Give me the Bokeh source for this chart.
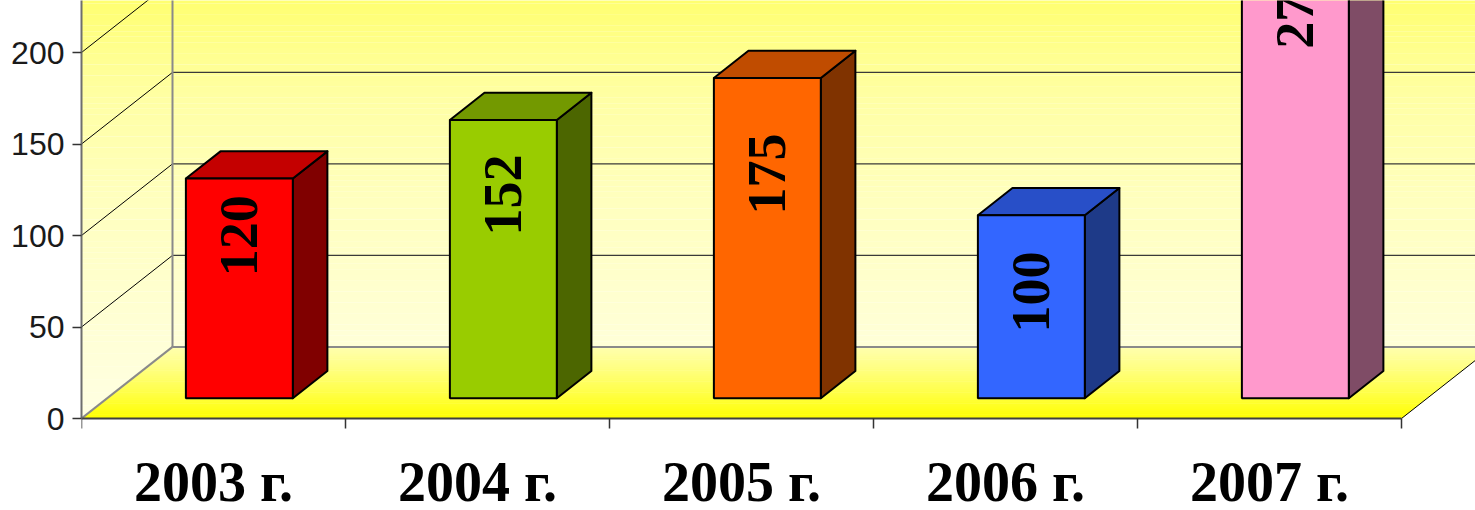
import numpy as np
from bokeh.plotting import figure
from bokeh.models import FixedTicker, Range1d, ColumnDataSource, LinearAxis
from bokeh.core.properties import value
from bokeh.embed import file_html
from bokeh.resources import INLINE

# ---- data -------------------------------------------------------------
years = ["2003 г.", "2004 г.", "2005 г.", "2006 г.", "2007 г."]
counts = [120, 152, 175, 100, 275]
y_ticks = [0, 50, 100, 150, 200]

# ---- styling ----------------------------------------------------------
front_colors = ["#FF0000", "#99CC00", "#FF6600", "#3366FF", "#FF99CC"]
top_colors = ["#C40000", "#739900", "#C04C00", "#284FC8", "#C87AA0"]
side_colors = ["#800000", "#4C6600", "#803300", "#1E3A88", "#7F4C66"]
label_frac = [0.74, 0.73, 0.70, 0.58, 0.775]   # where the value sits along each bar

W, H = 1475, 510
PX_X = 264.0          # pixels per category
PX_Y = 1.83           # pixels per value unit
LEFT, BASE = 81, 418  # left edge of the plot box, pixel row of the zero line
DX = 91.0 / PX_X      # depth of the box along x (category units)
DY = 71.6 / PX_Y      # depth of the box along y (value units)
FRONT = 0.284         # depth position of the bar fronts
BAR_D = 0.38          # bar depth as a fraction of the box depth
BAR_W = 0.405
N = len(years)

x_end = (W - LEFT) / PX_X
y_end = BASE / PX_Y
y_start = -(H - BASE) / PX_Y

p = figure(width=W, height=H, output_backend="svg", toolbar_location=None,
           x_range=Range1d(0, x_end), y_range=Range1d(y_start, y_end),
           x_axis_location=None,
           min_border_left=LEFT, min_border_right=0, min_border_top=0,
           min_border_bottom=0)
p.outline_line_color = None
p.background_fill_color = "white"
p.border_fill_color = "white"
for g in p.grid:
    g.visible = False


def wall_color(ypx):
    b = np.interp(ypx, [0, 50, 100, 200, 300, 347, 418],
                  [112, 142, 165, 190, 208, 216, 226])
    return "#FFFF%02X" % int(round(b))


# ---- walls (vertical gradient) --------------------------------------
edges = np.concatenate([np.linspace(0, DY, 12), np.linspace(DY, y_end + 80, 90)[1:]])
b0, b1 = edges[:-1], edges[1:]
mid_px = BASE - (b0 + b1) / 2 * PX_Y
wall_right = np.where((b0 + b1) / 2 < DY, DX, N + DX)
p.quad(left=np.zeros(len(b0)), right=wall_right, bottom=b0, top=b1 + 0.05,
       fill_color=[wall_color(v) for v in mid_px], line_color=None)

# ---- floor (gradient from front to back) ----------------------------
t = np.linspace(0, 1, 40)
fxs, fys, fcols = [], [], []
for t0, t1 in zip(t[:-1], t[1:]):
    fxs.append([t0 * DX, N + t0 * DX, N + t1 * DX + 0.003, t1 * DX])
    fys.append([t0 * DY, t0 * DY, t1 * DY + 0.3, t1 * DY + 0.3])
    tb = np.interp((t0 + t1) / 2, [0, 0.35, 0.7, 1], [0, 70, 130, 175])
    fcols.append("#FFFF%02X" % int(round(tb)))
p.patches(fxs, fys, fill_color=fcols, line_color=None)

# ---- grid lines on the side wall and back wall ----------------------
grid_v = [v for v in y_ticks[1:]] + [250]
p.multi_line([[0, DX] for v in grid_v], [[v, v + DY] for v in grid_v],
             line_color="black", line_width=1)
p.multi_line([[DX, N + DX] for v in grid_v], [[v + DY, v + DY] for v in grid_v],
             line_color="#3A3A3A", line_width=1.2)

# box edges
p.multi_line([[0, DX], [DX, N + DX], [DX, DX]],
             [[0, DY], [DY, DY], [DY, y_end + 80]],
             line_color="#8A8A8A", line_width=2)
p.line([N, N + DX], [0, DY], line_color="black", line_width=1)

# ---- bars -----------------------------------------------------------
lefts = [i + (1 - BAR_W) / 2 + FRONT * DX for i in range(N)]
rights = [l + BAR_W for l in lefts]
bottom = FRONT * DY
tops = [bottom + c for c in counts]
bdx, bdy = BAR_D * DX, BAR_D * DY

src = ColumnDataSource(dict(
    l=lefts, r=rights, b=[bottom] * N, t=tops, fc=front_colors,
    lx=[(l + r) / 2 for l, r in zip(lefts, rights)],
    ly=[bottom + c * f for c, f in zip(counts, label_frac)],
    txt=[str(c) for c in counts],
))

p.patches([[r, r + bdx, r + bdx, r] for r in rights],
          [[bottom, bottom + bdy, tp + bdy, tp] for tp in tops],
          fill_color=side_colors, line_color="black", line_width=2,
          line_join="round")
p.patches([[l, l + bdx, r + bdx, r] for l, r in zip(lefts, rights)],
          [[tp, tp + bdy, tp + bdy, tp] for tp in tops],
          fill_color=top_colors, line_color="black", line_width=2,
          line_join="round")
p.quad(left="l", right="r", bottom="b", top="t", fill_color="fc",
       line_color="black", line_width=2, source=src)

p.text(x="lx", y="ly", text="txt", source=src, angle=np.pi / 2,
       text_font=value("Liberation Serif"), text_font_style="bold",
       text_font_size="54px", text_align="center", text_baseline="middle",
       text_color="black")

# ---- axes -----------------------------------------------------------
ya = p.yaxis[0]
ya.ticker = FixedTicker(ticks=y_ticks)
ya.bounds = (0, y_end)
ya.axis_line_color = "#6E6E6E"
ya.axis_line_width = 2
ya.major_tick_out = 9
ya.major_tick_in = 0
ya.major_tick_line_color = "#333333"
ya.major_tick_line_width = 1.5
ya.minor_tick_line_color = None
ya.major_label_standoff = 8
ya.major_label_text_font = "Liberation Sans"
ya.major_label_text_font_size = "32px"
ya.major_label_text_color = "#1A1A1A"

centers = [i + 0.5 for i in range(N)]
xa = LinearAxis(fixed_location=0,
                ticker=FixedTicker(ticks=centers, minor_ticks=list(range(N + 1))))
xa.major_label_overrides = {c: y for c, y in zip(centers, years)}
xa.bounds = (0, N)
xa.axis_line_color = "#404040"
xa.axis_line_width = 2
xa.major_tick_out = 0
xa.major_tick_in = 0
xa.minor_tick_out = 10
xa.minor_tick_in = 0
xa.minor_tick_line_color = "#333333"
xa.minor_tick_line_width = 1.5
xa.major_label_standoff = 22
xa.major_label_text_font = "Liberation Serif"
xa.major_label_text_font_style = "bold"
xa.major_label_text_font_size = "56px"
xa.major_label_text_color = "black"
p.add_layout(xa, "below")

open("out.html", "w").write(file_html(p, INLINE))
